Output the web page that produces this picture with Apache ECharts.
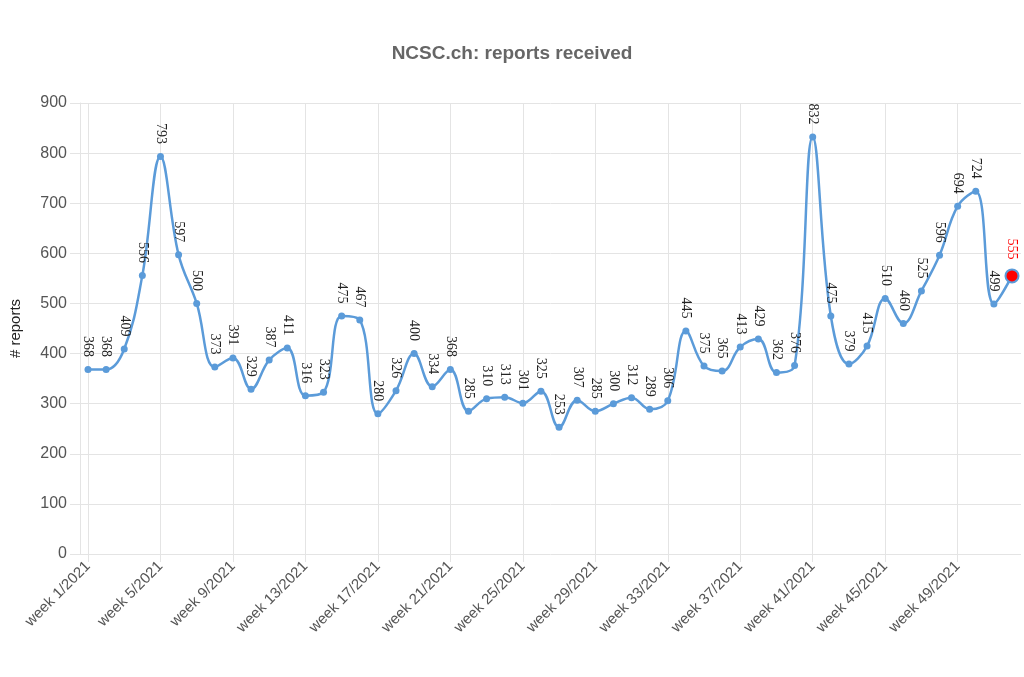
<!DOCTYPE html>
<html><head><meta charset="utf-8">
<script src="https://cdn.jsdelivr.net/npm/echarts@6/dist/echarts.min.js"></script>
<style>html,body{margin:0;padding:0;background:#fff}#c{width:1024px;height:677px}</style>
</head><body><div id="c"></div>
<script>
const weeks = [];
for (let i = 1; i <= 52; i++) weeks.push('week ' + i + '/2021');
const reports = [368,368,409,556,793,597,500,373,391,329,
  387,411,316,323,475,467,280,326,400,334,
  368,285,310,313,301,325,253,307,285,300,
  312,289,306,445,375,365,413,429,362,376,
  832,475,379,415,510,460,525,596,694,724,
  499,555];
const yTicks = {min:0, max:900, interval:100};
const titleText = 'NCSC.ch: reports received';
const yName = '# reports';

const grey = '#e4e4e4';
const lineColor = '#5b9bd9';
const lastIdx = reports.length - 1;
const seriesData = reports.map((v, i) => i === lastIdx ? {
  value: v, symbolSize: 13,
  itemStyle: {color: '#ff0000', borderColor: lineColor, borderWidth: 2},
  label: {color: '#ff0000'}
} : v);

const chart = echarts.init(document.getElementById('c'));
chart.setOption({
  animation: false,
  title: {text: titleText, left: 'center', top: 39,
    textStyle: {fontFamily: 'Liberation Sans', fontSize: 19, fontWeight: 'bold', color: '#666'}},
  grid: [
    {left: 78, right: 3, top: 103, bottom: 123},
    {left: 88, right: 12, top: 103, bottom: 123}
  ],
  xAxis: [
    {gridIndex: 0, type: 'value', min: 0, max: 1, show: false},
    {gridIndex: 1, type: 'category', data: weeks, boundaryGap: false,
      axisLine: {show: false},
      axisTick: {show: true, interval: 3, length: 8, lineStyle: {color: grey}},
      splitLine: {show: true, interval: 3, lineStyle: {color: grey}},
      axisLabel: {interval: 3, rotate: 45, margin: 10, fontFamily: 'Liberation Sans', fontSize: 15, color: '#555'}}
  ],
  yAxis: [
    {gridIndex: 0, type: 'value', min: yTicks.min, max: yTicks.max, interval: yTicks.interval,
      name: yName, nameLocation: 'middle', nameGap: 57,
      nameTextStyle: {fontFamily: 'Liberation Sans', fontSize: 15, color: '#222'},
      axisLine: {show: true, lineStyle: {color: grey}},
      axisTick: {show: true, length: 10, lineStyle: {color: grey}},
      splitLine: {show: true, lineStyle: {color: grey}},
      axisLabel: {margin: 13, fontFamily: 'Liberation Sans', fontSize: 16, color: '#555'}},
    {gridIndex: 1, type: 'value', min: yTicks.min, max: yTicks.max, interval: yTicks.interval, show: false,
      splitLine: {show: false}}
  ],
  series: [{
    type: 'line', xAxisIndex: 1, yAxisIndex: 1,
    data: seriesData, smooth: 0.4,
    symbol: 'circle', symbolSize: 7,
    lineStyle: {color: lineColor, width: 2.5},
    itemStyle: {color: lineColor},
    label: {show: true, position: 'top', rotate: -90, align: 'right', verticalAlign: 'middle',
      distance: 9, fontFamily: 'Liberation Serif', fontSize: 14, color: '#222'}
  }]
});
</script></body></html>
